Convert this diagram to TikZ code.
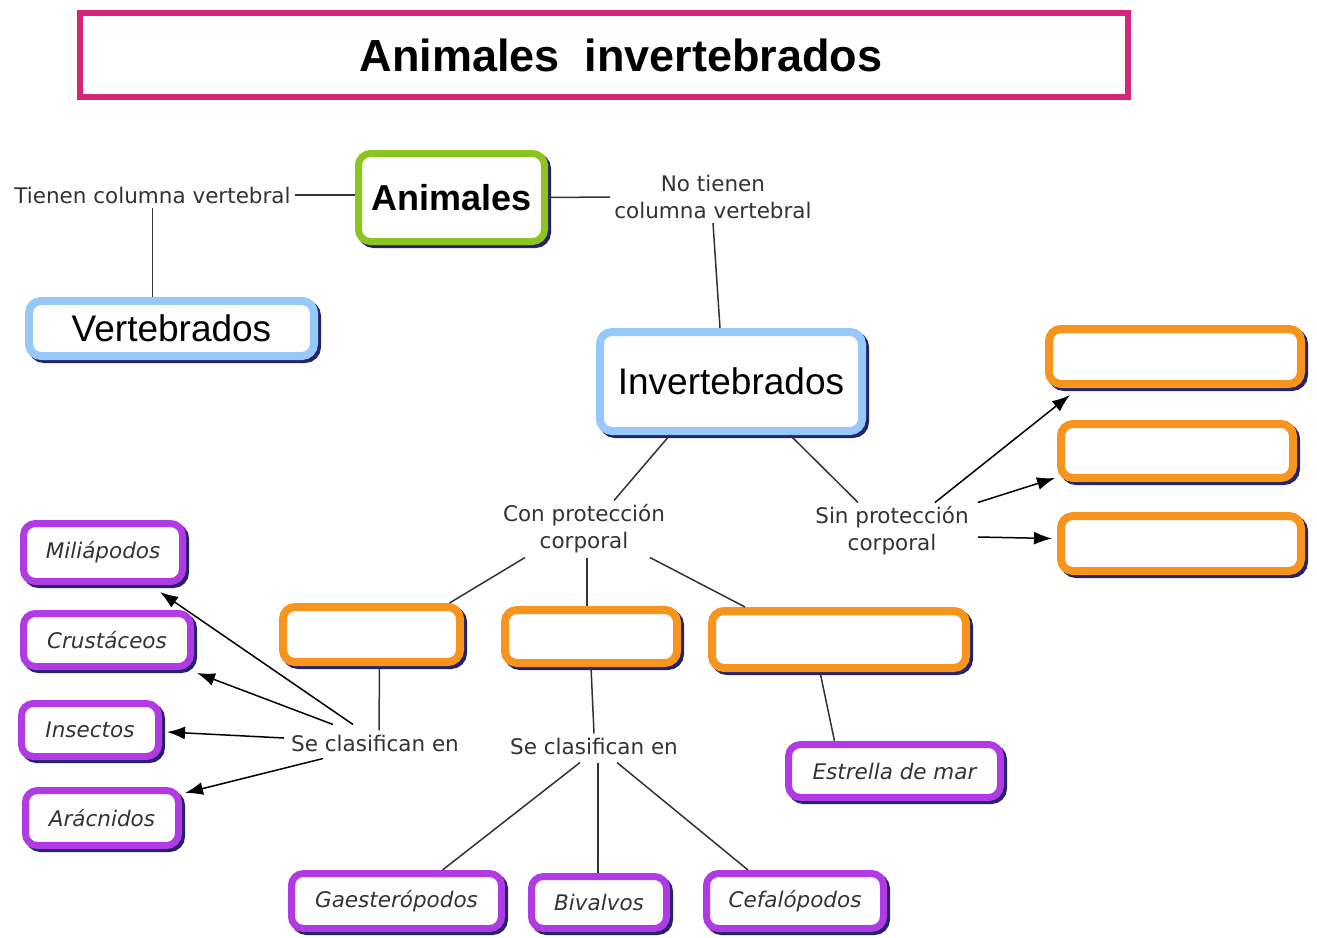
\documentclass[tikz,border=0pt]{standalone}
\usepackage{fontspec}
\setmainfont{DejaVu Sans}
\newfontfamily\arialfont{Liberation Sans}
\usetikzlibrary{positioning, arrows.meta, shadows}
\definecolor{titlepink}{RGB}{214,36,122}
\definecolor{leafgreen}{RGB}{140,196,32}
\definecolor{skyblue}{RGB}{150,200,250}
\definecolor{tangerine}{RGB}{247,148,30}
\definecolor{orchid}{RGB}{176,58,228}
\definecolor{navyshade}{RGB}{35,35,110}
\definecolor{inkgray}{RGB}{51,51,51}

\begin{document}
\begin{tikzpicture}[x=1pt, y=-1pt,
    every node/.style={font=\fontsize{21.5}{27}\selectfont, text=inkgray},
    box/.style={draw, fill=white, rounded corners=12pt, inner sep=0pt,
      drop shadow={shadow xshift=3pt, shadow yshift=-3pt, opacity=1,
        fill=navyshade, draw=navyshade}},
    greenbox/.style={box, draw=leafgreen, line width=7pt, text=black,
      font=\arialfont\bfseries\fontsize{36}{40}\selectfont},
    bluebox/.style={box, draw=skyblue, line width=8pt, text=black,
      font=\arialfont\fontsize{37}{40}\selectfont},
    orangebox/.style={box, draw=tangerine, line width=8pt},
    purplebox/.style={box, draw=orchid, line width=7pt,
      font=\itshape\fontsize{21.5}{27}\selectfont},
    lbl/.style={align=center, inner sep=4pt},
    link/.style={draw=inkgray, line width=1.5pt},
    arrow/.style={draw=black, line width=1.5pt, -{Latex[length=18pt, width=13pt]}}]
\useasboundingbox[fill=white] (0,0) rectangle (1317,937);

% title
\draw[titlepink, line width=6pt] (80,13) rectangle (1128,97);
\node (title) at (621,55) [text=black, font=\arialfont\bfseries\fontsize{45}{50}\selectfont]
  {Animales\ \ invertebrados};

% main boxes
\node (animales) at (451.5,197.5) [greenbox, minimum width=186pt, minimum height=88pt] {Animales};
\node (vertebrados) at (171.5,328.5) [bluebox, minimum width=285pt, minimum height=55pt] {Vertebrados};
\node (invertebrados) at (731,381.5) [bluebox, minimum width=262pt, minimum height=99pt] {Invertebrados};

% empty boxes
\node (sinbox1) at (1175,356.5) [orangebox, minimum width=252pt, minimum height=55pt] {};
\node (sinbox2) at (1177,451) [orangebox, minimum width=232pt, minimum height=54pt] {};
\node (sinbox3) at (1181,543.5) [orangebox, minimum width=240pt, minimum height=55pt] {};
\node (conbox1) at (371.5,634.5) [orangebox, minimum width=177pt, minimum height=55pt] {};
\node (conbox2) at (591,636.5) [orangebox, minimum width=172pt, minimum height=53pt] {};
\node (conbox3) at (839,639.5) [orangebox, minimum width=254pt, minimum height=57pt] {};

% groups
\node (miliapodos) at (103,552.5) [purplebox, minimum width=159pt, minimum height=58pt] {Miliápodos};
\node (crustaceos) at (107,640) [purplebox, minimum width=167pt, minimum height=53pt] {Crustáceos};
\node (insectos) at (90,730) [purplebox, minimum width=137pt, minimum height=53pt] {Insectos};
\node (aracnidos) at (102,818) [purplebox, minimum width=153pt, minimum height=55pt] {Arácnidos};
\node (estrella) at (894.5,771) [purplebox, minimum width=212pt, minimum height=53pt] {Estrella de mar};
\node (gasteropodos) at (396.5,901) [purplebox, minimum width=210pt, minimum height=55pt] {Gaesterópodos};
\node (bivalvos) at (599,902.5) [purplebox, minimum width=135pt, minimum height=52pt] {Bivalvos};
\node (cefalopodos) at (795,901) [purplebox, minimum width=177pt, minimum height=55pt] {Cefalópodos};

% linking words
\node (tienen) at (152.5,195) [lbl] {Tienen columna vertebral};
\node (notienen) at (713,197) [lbl] {No tienen\\columna vertebral};
\node (con) at (584,529) [lbl] {Con protección\\corporal};
\node (sin) at (892,531) [lbl] {Sin protección\\corporal};
\node (clasif1) at (375,743) [lbl] {Se clasifican en};
\node (clasif2) at (594,746) [lbl] {Se clasifican en};

% connectors
\draw[link] (tienen.east) -- (tienen.east -| animales.west);
\draw[link] (tienen.south) -- (tienen.south |- vertebrados.north);
\draw[link] (animales.east) -- (notienen.west);
\draw[link] (notienen.south) -- ([xshift=-11pt]invertebrados.north);
\draw[link] ([xshift=-61pt]invertebrados.south) -- ([xshift=30pt]con.north);
\draw[link] ([xshift=59pt]invertebrados.south) -- ([xshift=-34pt]sin.north);
\draw[arrow] ([xshift=43pt]sin.north) -- ([xshift=25pt,yshift=-7pt]sinbox1.south west);
\draw[arrow] ([xshift=5pt]sin.north east) -- ([xshift=-2pt,yshift=4pt]sinbox2.south west);
\draw[arrow] ([xshift=5pt,yshift=-6pt]sin.east) -- ([xshift=-5pt,yshift=5pt]sinbox3.west);
\draw[link] ([xshift=-59pt]con.south) -- ([xshift=78pt]conbox1.north);
\draw[link] ([xshift=3pt]con.south) -- ([xshift=-4pt]conbox2.north);
\draw[link] ([xshift=66pt]con.south) -- ([xshift=-94pt]conbox3.north);
\draw[link] ([xshift=8pt]conbox1.south) -- ([xshift=4pt]clasif1.north);
\draw[arrow] ([xshift=-22pt,yshift=6pt]clasif1.north) -- ([xshift=-26pt,yshift=-7pt]miliapodos.south east);
\draw[arrow] ([xshift=-42pt,yshift=6pt]clasif1.north) -- ([xshift=3pt,yshift=-3pt]crustaceos.south east);
\draw[arrow] ([xshift=-3pt,yshift=5pt]clasif1.west) -- ([xshift=5pt,yshift=-2pt]insectos.east);
\draw[arrow] ([xshift=-52pt,yshift=-3pt]clasif1.south) -- ([xshift=3pt,yshift=-6pt]aracnidos.north east);
\draw[link] (conbox2.south) -- (clasif2.north);
\draw[link] ([xshift=-14pt,yshift=-4pt]clasif2.south) -- ([xshift=46pt]gasteropodos.north);
\draw[link] ([xshift=4pt,yshift=-4pt]clasif2.south) -- ([xshift=-1pt]bivalvos.north);
\draw[link] ([xshift=23pt,yshift=-4pt]clasif2.south) -- ([xshift=-47pt]cefalopodos.north);
\draw[link] ([xshift=-19pt]conbox3.south) -- ([xshift=-60pt]estrella.north);
\end{tikzpicture}
\end{document}
